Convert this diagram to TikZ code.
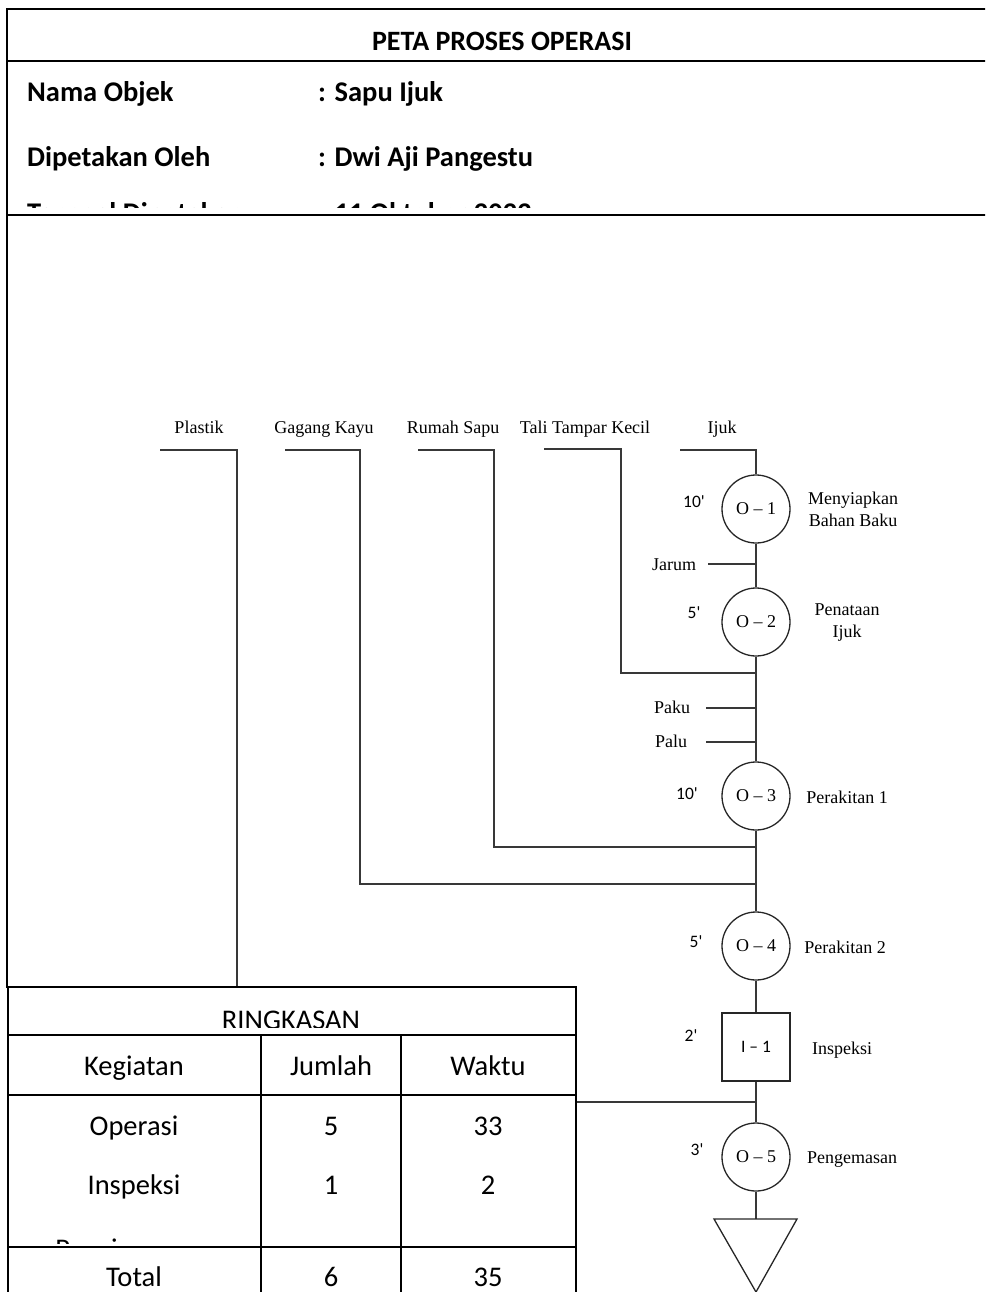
\documentclass[tikz,border=0pt]{standalone}
\usepackage{fontspec}
\setmainfont{Liberation Serif}
\newfontfamily\calfont{Carlito}
\begin{document}
\begin{tikzpicture}[x=1pt,y=-1pt,
  conn/.style={draw=black!78,line width=1.3pt},
  frame/.style={draw=black,line width=2.6pt},
  thinframe/.style={draw=black,line width=1.4pt},
  opnode/.style={circle,draw=black!85,line width=1.3pt,minimum size=68pt,inner sep=0pt,font=\fontsize{18}{20}\selectfont},
  inode/.style={rectangle,draw=black!85,line width=1.3pt,minimum size=68pt,inner sep=0pt,font=\calfont\fontsize{17.5}{20}\selectfont},
  lbl/.style={inner sep=0pt,anchor=base,align=center,font=\fontsize{18}{22}\selectfont},
  tm/.style={inner sep=0pt,font=\calfont\fontsize{17.5}{20}\selectfont},
  hdr/.style={inner sep=0pt,anchor=base west,font=\calfont\bfseries\fontsize{28.5}{30}\selectfont},
  ttl/.style={inner sep=0pt,anchor=base,font=\calfont\bfseries\fontsize{28}{30}\selectfont},
  cell/.style={inner sep=0pt,anchor=base,font=\calfont\fontsize{28.5}{30}\selectfont}
]
\useasboundingbox (0,0) rectangle (985,1292);
\clip (0,0) rectangle (985,1292);

% ---------- header ----------
\draw[frame] (990,9) -- (7,9) -- (7,215) -- (990,215);
\draw[frame] (7,61) -- (990,61);
\draw[thinframe] (7,215) -- (7,988);
\node[ttl] (title) at (502,51) {PETA PROSES OPERASI};
\node[hdr] (nama) at (27,102) {Nama Objek};
\node[hdr] (namav) at (318,102) {: Sapu Ijuk};
\node[hdr] (oleh) at (27,167) {Dipetakan Oleh};
\node[hdr] (olehv) at (318,167) {: Dwi Aji Pangestu};
\begin{scope}
\clip (10,180) rectangle (985,207.5);
\node[hdr] (tgl) at (27,222.5) {Tanggal Dipetakan};
\node[hdr] (tglv) at (318,222.5) {: 11 Oktober 2022};
\end{scope}

% ---------- material labels ----------
\node[lbl] (lplastik) at (199,433) {Plastik};
\node[lbl] (lgagang) at (324,433) {Gagang Kayu};
\node[lbl] (lrumah) at (453,433) {Rumah Sapu};
\node[lbl] (ltali) at (585,433) {Tali Tampar Kecil};
\node[lbl] (lijuk) at (722,433) {Ijuk};

\coordinate (splastik) at (160,450);
\coordinate (sgagang) at (285,450);
\coordinate (srumah) at (418,450);
\coordinate (stali) at (544,449);
\coordinate (sijuk) at (680,450);

% ---------- operations ----------
\node[opnode] (o1) at (756,509) {O – 1};
\node[opnode] (o2) at (756,622) {O – 2};
\node[opnode] (o3) at (756,796) {O – 3};
\node[opnode] (o4) at (756,946) {O – 4};
\node[inode] (i1) at (756,1047) {I – 1};
\node[opnode] (o5) at (756,1157) {O – 5};
\coordinate (tri) at (756,1219);

% times
\node[tm] (t1) at (694,502) {10'};
\node[tm] (t2) at (694,613) {5'};
\node[tm] (t3) at (687,794) {10'};
\node[tm] (t4) at (696,942) {5'};
\node[tm] (t5) at (691,1036) {2'};
\node[tm] (t6) at (697,1150) {3'};

% descriptions
\node[lbl] (d1) at (853,526) {Menyiapkan\\Bahan Baku};
\node[lbl] (d2) at (847,637) {Penataan\\Ijuk};
\node[lbl] (d3) at (847,803) {Perakitan 1};
\node[lbl] (d4) at (845,953) {Perakitan 2};
\node[lbl] (d5) at (842,1054) {Inspeksi};
\node[lbl] (d6) at (852,1163) {Pengemasan};

% side inputs
\node[lbl] (ljarum) at (674,570) {Jarum};
\node[lbl] (lpaku) at (672,713) {Paku};
\node[lbl] (lpalu) at (671,747) {Palu};
\coordinate (jarumS) at (708,564);
\coordinate (jarumE) at (756,564);
\coordinate (pakuS) at (706,708);
\coordinate (pakuE) at (756,708);
\coordinate (paluS) at (706,742);
\coordinate (paluE) at (756,742);

% ---------- connectors ----------
\draw[conn] (sijuk) -- (756,450) -- (o1.north);
\draw[conn] (o1.south) -- (o2.north);
\draw[conn] (jarumS) -- (jarumE);
\draw[conn] (o2.south) -- (o3.north);
\draw[conn] (stali) -- (621,449) -- (621,673) -- (756,673);
\draw[conn] (pakuS) -- (pakuE);
\draw[conn] (paluS) -- (paluE);
\draw[conn] (o3.south) -- (o4.north);
\draw[conn] (srumah) -- (494,450) -- (494,847) -- (756,847);
\draw[conn] (sgagang) -- (360,450) -- (360,884) -- (756,884);
\draw[conn] (o4.south) -- (i1.north);
\draw[conn] (i1.south) -- (o5.north);
\draw[conn] (splastik) -- (237,450) -- (237,1102) -- (756,1102);
\draw[conn] (o5.south) -- (tri);
\draw[draw=black!85,line width=1.3pt] (714,1219) -- (797,1219) -- (756,1292) -- cycle;

% ---------- summary table ----------
\fill[white] (8,987) rectangle (576,1300);
\draw[frame] (8,1300) -- (8,987) -- (576,987) -- (576,1300);
\draw[frame] (8,1035) -- (576,1035);
\draw[frame] (8,1095) -- (576,1095);
\draw[frame] (8,1247) -- (576,1247);
\draw[frame] (261,1035) -- (261,1300);
\draw[frame] (401,1035) -- (401,1300);
\begin{scope}
\clip (10,990) rectangle (574,1027);
\node[cell] (ring) at (291,1029) {RINGKASAN};
\end{scope}
\node[cell] (hk) at (134,1075) {Kegiatan};
\node[cell] (hj) at (331,1075) {Jumlah};
\node[cell] (hw) at (488,1075) {Waktu};
\node[cell] (r1a) at (134,1135) {Operasi};
\node[cell] (r1b) at (331,1135) {5};
\node[cell] (r1c) at (488,1135) {33};
\node[cell] (r2a) at (134,1194) {Inspeksi};
\node[cell] (r2b) at (331,1194) {1};
\node[cell] (r2c) at (488,1194) {2};
\begin{scope}
\clip (10,1200) rectangle (259,1243.5);
\node[cell] (r3a) at (134,1258) {Penyimpanan};
\end{scope}
\node[cell] (tota) at (134,1286) {Total};
\node[cell] (totb) at (331,1286) {6};
\node[cell] (totc) at (488,1286) {35};
\end{tikzpicture}
\end{document}
